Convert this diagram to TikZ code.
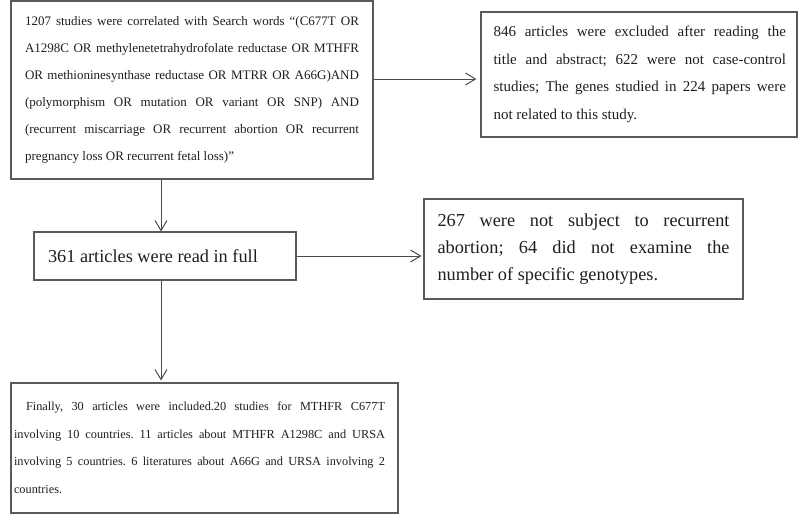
\documentclass[tikz,border=0pt]{standalone}
\usepackage{fontspec}
\setmainfont{Liberation Serif}
\usetikzlibrary{arrows.meta}
\definecolor{boxc}{HTML}{5A5A5A}
\definecolor{txtc}{HTML}{1E1E1E}
\definecolor{arrc}{HTML}{4A4A4A}
\newcommand{\jl}[2]{\makebox[#1][s]{#2}}
\newcommand{\rs}{\spaceskip=0pt\xspaceskip=0pt\frenchspacing}
\tikzset{
  box/.style={draw=boxc, line width=1.1pt, text=txtc, inner ysep=0pt, align=left},
  arr/.style={draw=arrc, line width=1pt, -{Straight Barb[length=10pt,width=12pt,line width=1pt]}}
}
\begin{document}
\begin{tikzpicture}[x=1pt,y=-1pt]
\useasboundingbox (0,0) rectangle (800,514);
\node[box, minimum width=362pt, minimum height=178pt, text width=334pt, inner xsep=14pt,
      font=\fontsize{13}{27}\selectfont] (search) at (192,90) {\rs
\jl{334pt}{1207 studies were correlated with Search words “(C677T OR}\\
\jl{334pt}{A1298C OR methylenetetrahydrofolate reductase OR MTHFR}\\
\jl{334pt}{OR methioninesynthase reductase OR MTRR OR A66G)AND}\\
\jl{334pt}{(polymorphism OR mutation OR variant OR SNP) AND}\\
\jl{334pt}{(recurrent miscarriage OR recurrent abortion OR recurrent}\\
pregnancy loss OR recurrent fetal loss)”};
\node[box, minimum width=316pt, minimum height=125pt, text width=294pt, inner xsep=11pt,
      font=\fontsize{15}{27.5}\selectfont] (excl1) at (639,74.5) {\rs
\hspace*{1.5pt}\jl{292.5pt}{846 articles were excluded after reading the}\\
\hspace*{1.5pt}\jl{292.5pt}{title and abstract; 622 were not case-control}\\
\hspace*{1.5pt}\jl{292.5pt}{studies; The genes studied in 224 papers were}\\
\hspace*{1.5pt}not related to this study.};
\node[box, minimum width=262pt, minimum height=48pt, text width=234pt, inner xsep=14pt,
      font=\fontsize{18.3}{27}\selectfont] (full) at (165,256) {\rs 361 articles were read in full};
\node[box, minimum width=319pt, minimum height=100pt, text width=292pt, inner xsep=13.5pt,
      font=\fontsize{18.3}{27}\selectfont] (excl2) at (583.5,249) {\rs
\jl{292pt}{267 were not subject to recurrent}\\
\jl{292pt}{abortion; 64 did not examine the}\\
number of specific genotypes.};
\node[box, minimum width=387pt, minimum height=130pt, text width=381pt, inner xsep=3pt,
      font=\fontsize{12.3}{27.5}\selectfont] (final) at (204.5,448) {\rs
\hspace*{12pt}\jl{359pt}{Finally, 30 articles were included.20 studies for MTHFR C677T}\\
\jl{371pt}{involving 10 countries. 11 articles about MTHFR A1298C and URSA}\\
\jl{371pt}{involving 5 countries. 6 literatures about A66G and URSA involving 2}\\
countries.};
\coordinate (vx) at (161,0);
\draw[arr, shorten >=4pt] ([yshift=11pt]search.east) -- ([yshift=11pt]search.east -| excl1.west);
\draw[arr] (search.south -| vx) -- (full.north -| vx);
\draw[arr, shorten >=2pt] (full.east) -- (full.east -| excl2.west);
\draw[arr, shorten >=2pt] (full.south -| vx) -- (final.north -| vx);
\end{tikzpicture}
\end{document}
